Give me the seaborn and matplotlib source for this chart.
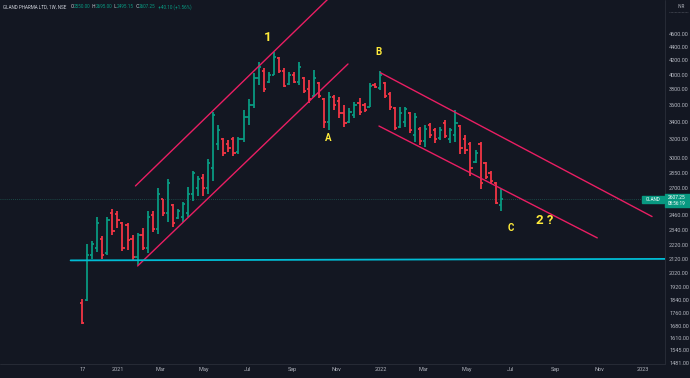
import numpy as np
import pandas as pd
import matplotlib
matplotlib.use("Agg")
import matplotlib.pyplot as plt
from matplotlib.ticker import FixedLocator, FixedFormatter, NullLocator, NullFormatter
import seaborn as sns

# ---------------- data ----------------
week_end = pd.date_range("2020-11-13", periods=84, freq="7D")
opens = [1820, 1840, 2150, 2200, 2270, 2160, 2480, 2470, 2400, 2380,
         2270, 2130, 2300, 2200, 2460, 2350, 2600, 2480, 2550, 2440,
         2450, 2480, 2650, 2700, 2800, 2700, 2900, 3150, 3200, 3150,
         3200, 3060, 3200, 3450, 3600, 3950, 4050, 3900, 4000, 4230,
         4050, 3870, 4000, 3900, 3950, 3800, 3720, 3880, 3680, 3400,
         3700, 3650, 3500, 3400, 3480, 3620, 3600, 3580, 3860, 3820,
         3890, 3740, 3560, 3340, 3400, 3500, 3250, 3320, 3180, 3360,
         3300, 3210, 3380, 3200, 3250, 3350, 3200, 3150, 2960, 3150,
         2950, 2850, 2750, 2550]
highs = [1845, 2226, 2249, 2451, 2290, 2451, 2519, 2502, 2409, 2400,
         2296, 2319, 2352, 2502, 2502, 2708, 2608, 2793, 2563, 2519,
         2581, 2717, 2871, 2822, 2841, 2992, 3516, 3363, 3216, 3194,
         3227, 3227, 3541, 3677, 4021, 4177, 4091, 4035, 4323, 4250,
         4091, 4035, 4035, 4177, 3967, 3926, 4063, 3899, 3690, 3766,
         3728, 3702, 3602, 3565, 3639, 3690, 3627, 3886, 3886, 4049,
         3899, 3766, 3577, 3577, 3577, 3516, 3504, 3340, 3363, 3386,
         3328, 3340, 3421, 3328, 3541, 3363, 3249, 3172, 3086, 3172,
         2961, 2871, 2764, 2695]
lows = [1693, 1831, 2114, 2166, 2114, 2150, 2296, 2360, 2173, 2181,
        2107, 2071, 2181, 2158, 2327, 2311, 2459, 2409, 2368, 2434,
        2409, 2451, 2590, 2635, 2635, 2653, 2774, 3086, 3023, 3065,
        3023, 3044, 3172, 3363, 3565, 3858, 3766, 3886, 3994, 4021,
        3831, 3858, 3886, 3858, 3753, 3627, 3702, 3690, 3328, 3306,
        3541, 3444, 3340, 3386, 3444, 3480, 3516, 3577, 3818, 3792,
        3690, 3541, 3306, 3328, 3340, 3271, 3172, 3139, 3118, 3216,
        3161, 3194, 3216, 3161, 3172, 3044, 3044, 2822, 2950, 2699,
        2793, 2746, 2563, 2495.15]
closes = [1700, 2150, 2230, 2400, 2150, 2420, 2330, 2420, 2200, 2260,
          2130, 2300, 2200, 2450, 2350, 2650, 2480, 2750, 2400, 2500,
          2560, 2650, 2850, 2790, 2700, 2950, 3480, 3300, 3050, 3100,
          3050, 3200, 3450, 3600, 3950, 4100, 3800, 4000, 4250, 4050,
          3850, 4000, 3900, 4100, 3780, 3680, 3950, 3720, 3400, 3700,
          3600, 3500, 3380, 3520, 3600, 3520, 3540, 3850, 3830, 3990,
          3720, 3580, 3330, 3500, 3550, 3300, 3450, 3180, 3320, 3250,
          3200, 3300, 3240, 3300, 3380, 3100, 3080, 2900, 3050, 2750,
          2810, 2770, 2567.15, 2607.25]

price_ticks = [4600, 4400, 4200, 4000, 3800, 3600, 3400, 3200, 3000, 2850, 2700,
               2460, 2340, 2220, 2120, 2020, 1920, 1840, 1760, 1680, 1610, 1545, 1481]
date_ticks = ["2020-11-13", "2021-01-01", "2021-03-01", "2021-05-01", "2021-07-01",
              "2021-09-01", "2021-11-01", "2022-01-01", "2022-03-01", "2022-05-01",
              "2022-07-01", "2022-09-01", "2022-11-01", "2023-01-01"]
date_labels = ["17", "2021", "Mar", "May", "Jul", "Sep", "Nov", "2022",
               "Mar", "May", "Jul", "Sep", "Nov", "2023"]

# drawn trend lines (start/end date, start/end price)
line_names = ["up_top", "up_bottom", "down_top", "down_bottom"]
line_dates = [("2021-01-26", "2021-10-26"), ("2021-01-29", "2021-11-17"),
              ("2022-01-01", "2023-01-13"), ("2021-12-30", "2022-10-29")]
line_prices = [(2724, 5262), (2067, 4148), (4025, 2451), (3349, 2277)]
support_dates = ["2020-10-28", "2023-02-05"]
support_prices = [2107, 2118]

wave_labels = ["1", "A", "B", "C", "2 ?"]
wave_dates = ["2021-07-29", "2021-10-20", "2021-12-29", "2022-07-01", "2022-08-17"]
wave_prices = [4537, 3216, 4323, 2352, 2420]
wave_sizes = [9.5, 7, 7, 7, 9.5]

# ---------------- style ----------------
BG = "#131722"
GREEN = "#089981"
RED = "#f23645"
PINK = "#e91e63"
CYAN = "#00bcd4"
YELLOW = "#ffeb3b"
TXT = "#b2b5be"

sns.set_theme(style="dark", rc={"axes.facecolor": BG, "figure.facecolor": BG,
                                "axes.grid": False, "axes.edgecolor": BG})
plt.rcParams["font.family"] = ["Roboto", "DejaVu Sans"]

fig = plt.figure(figsize=(6.9, 3.78), dpi=100)
fig.patch.set_facecolor(BG)
ax = fig.add_axes([0, 14 / 378, 665 / 690, 364 / 378])
ax.set_facecolor(BG)

df = pd.DataFrame({"date": week_end, "open": opens, "high": highs,
                   "low": lows, "close": closes})
cols = np.where(df["close"] >= df["open"], GREEN, RED)
tick = pd.Timedelta(days=3)
ax.vlines(df["date"], df["low"], df["high"], colors=cols, lw=1.3, zorder=3)
ax.hlines(df["open"], df["date"] - tick, df["date"], colors=cols, lw=1.3, zorder=3)
ax.hlines(df["close"], df["date"], df["date"] + tick, colors=cols, lw=1.3, zorder=3)

# trend lines via seaborn
rows = []
for name, (d0, d1), (p0, p1) in zip(line_names, line_dates, line_prices):
    rows.append({"line": name, "date": pd.Timestamp(d0), "price": p0})
    rows.append({"line": name, "date": pd.Timestamp(d1), "price": p1})
ldf = pd.DataFrame(rows)
sns.lineplot(data=ldf, x="date", y="price", hue="line", units="line",
             palette={n: PINK for n in line_names}, estimator=None, sort=False,
             legend=False, lw=1.0, ax=ax, zorder=4)
sdf = pd.DataFrame({"date": pd.to_datetime(support_dates), "price": support_prices})
sns.lineplot(data=sdf, x="date", y="price", color=CYAN, lw=1.3, ax=ax, zorder=4)

# current price line
ax.axhline(closes[-1], color="#1f5a55", lw=0.6, ls=(0, (1, 1.5)), zorder=1)

for lab, d, p, s in zip(wave_labels, wave_dates, wave_prices, wave_sizes):
    ax.text(pd.Timestamp(d), p, lab, color=YELLOW, fontsize=s, ha="center",
            va="center", fontweight="bold", zorder=5)

ax.set_yscale("log")
ax.set_ylim(1474, 5172)
ax.set_xlim(pd.Timestamp("2020-07-22"), pd.Timestamp("2023-01-31"))
ax.yaxis.tick_right()
ax.yaxis.set_major_locator(FixedLocator(price_ticks))
ax.yaxis.set_major_formatter(FixedFormatter([f"{v:.2f}" for v in price_ticks]))
ax.yaxis.set_minor_locator(NullLocator())
ax.yaxis.set_minor_formatter(NullFormatter())
ax.set_xticks(pd.to_datetime(date_ticks))
ax.set_xticklabels(date_labels)
ax.tick_params(axis="y", length=0, pad=3, labelsize=4, labelcolor=TXT)
ax.tick_params(axis="x", length=0, pad=2.5, labelsize=4, labelcolor=TXT)
ax.set_xlabel("")
ax.set_ylabel("")
for s in ax.spines.values():
    s.set_visible(False)

# separators
fig.add_artist(plt.Line2D([665 / 690, 665 / 690], [14 / 378, 1], color="#2a2e39", lw=0.6))
fig.add_artist(plt.Line2D([0, 665 / 690], [14 / 378, 14 / 378], color="#2a2e39", lw=0.6))

# header
t0 = fig.text(3 / 690, 1 - 7 / 378, "GLAND PHARMA LTD, 1W, NSE", color="#d1d4dc",
              fontsize=3.3, va="center", ha="left")
fig.canvas.draw()
hx = t0.get_window_extent().x1 + 4
for part, c in [("O", "#d1d4dc"), ("2550.00", GREEN), ("  H", "#d1d4dc"), ("2695.00", GREEN),
                ("  L", "#d1d4dc"), ("2495.15", GREEN), ("  C", "#d1d4dc"), ("2607.25", GREEN),
                ("  +40.10 (+1.56%)", GREEN)]:
    t = fig.text(hx / 690, 1 - 7 / 378, part, color=c, fontsize=3.3, va="center", ha="left")
    fig.canvas.draw()
    hx = t.get_window_extent().x1

fig.text(685 / 690, 1 - 7 / 378, "INR", color=TXT, fontsize=3.3, va="center", ha="right")
fig.add_artist(plt.Line2D([669 / 690, 688 / 690], [1 - 12 / 378, 1 - 12 / 378],
                          color="#5d606b", lw=0.5, ls=(0, (1, 1))))

# price labels
fig.patches.append(matplotlib.patches.Rectangle((665 / 690, 1 - 207 / 378), 25 / 690, 13 / 378,
                                                transform=fig.transFigure, color=GREEN, zorder=5))
fig.text(677 / 690, 1 - 197.5 / 378, "2607.25", color="white", fontsize=3.5, ha="center",
         va="center", zorder=6)
fig.text(677 / 690, 1 - 203.5 / 378, "08:56:19", color="white", fontsize=3.3, ha="center",
         va="center", zorder=6)
fig.patches.append(matplotlib.patches.Rectangle((642 / 690, 1 - 203 / 378), 22 / 690, 7 / 378,
                                                transform=fig.transFigure, color=GREEN, zorder=5))
fig.text(653 / 690, 1 - 199.5 / 378, "GLAND", color="white", fontsize=3.3, ha="center",
         va="center", zorder=6)

fig.savefig("out.png", dpi=100, facecolor=BG)
